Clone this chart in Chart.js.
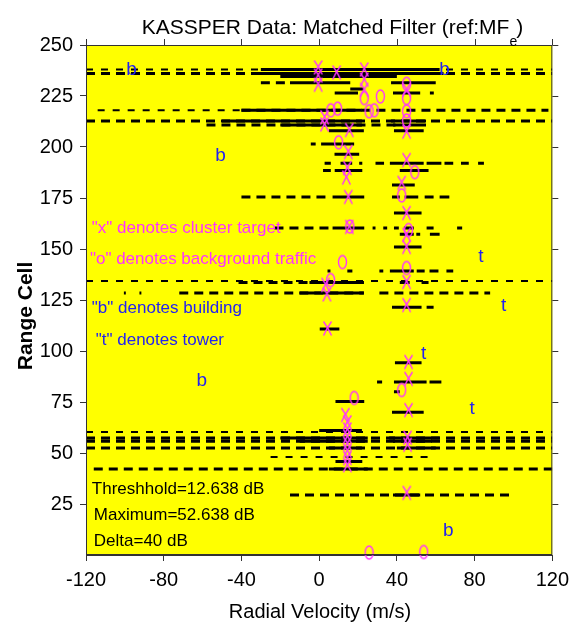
<!DOCTYPE html>
<html>
<head>
<meta charset="utf-8">
<title>KASSPER Data: Matched Filter</title>
<script src="https://cdn.jsdelivr.net/npm/chart.js@4.4.1/dist/chart.umd.min.js"></script>
<style>
  html, body { margin: 0; padding: 0; background: #ffffff; }
  #wrap { width: 576px; height: 632px; }
</style>
</head>
<body>
<div id="wrap"><canvas id="mf" width="576" height="632"></canvas></div>
<script>
// Detection runs: [range cell, velocity from, velocity to] (m/s)
const thinDashRuns = [
  [238.0, -120, 120],
  [218.0, -114, -40],
  [134.3, -120, 120],
  [60.3, -120, 120],
  [48.0, -25, 57]
];

const thickDashRuns = [
  [236.0, -120, 120],
  [231.5, -30, -15],
  [218.0, -40, 118],
  [212.7, -120, 120],
  [210.8, -58, 40],
  [175.5, -40, 5],
  [160.3, -23, 5],
  [133.6, -41.5, 23],
  [128.4, -72, 23],
  [128.4, 31, 88],
  [57.4, -120, 120],
  [55.8, -120, 120],
  [52.4, -120, 120],
  [42.2, -116, 120],
  [29.4, -15, 100]
];

const solidRuns = [
  [238.0, -30, 62], [236.0, -34, 64], [234.6, -20, 40],
  [231.5, -15, 16], [231.5, 37, 60], [228.4, 16, 23],
  [226.5, 8, 20], [226.5, 38, 52], [226.5, 57, 59],
  [218.0, -40, 22], [212.7, -50, 22], [212.7, 37, 55],
  [210.8, -20, 22], [210.8, 38, 55],
  [208.0, 5, 23], [208.0, 38.5, 53.8],
  [201.5, -4.3, -1.8], [201.5, 1, 18], [196.5, 7.9, 20.6],
  [192.0, 2.8, 6], [192.0, 11, 17], [192.0, 20.6, 22.2], [192.0, 29, 33.4],
  [192.0, 36.4, 53.8], [192.0, 55.3, 62.9], [192.0, 64.5, 69], [192.0, 73, 77],
  [192.0, 81.8, 84.8],
  [188.5, 2, 6], [188.5, 8, 22.2], [188.5, 41.5, 56.3],
  [181.4, 37.5, 49.2],
  [175.5, 6.9, 23.2], [175.5, 37.5, 41.5], [175.5, 44, 51], [175.5, 54.3, 58.9],
  [175.5, 62, 67],
  [167.6, 38.5, 52.7],
  [160.3, 6.9, 23.2], [160.3, 27.5, 29], [160.3, 33, 35], [160.3, 38.5, 41],
  [160.3, 43.6, 48.7], [160.3, 55.3, 58.9], [160.3, 71, 73.6],
  [157.2, 41.5, 48.7], [157.2, 50, 52], [157.2, 57, 62],
  [151.0, 38.5, 52.7],
  [139.2, 4.3, 5.8], [139.2, 14.5, 17.1], [139.2, 31, 33], [139.2, 36.4, 48.7],
  [139.2, 50.2, 54.3], [139.2, 56.8, 61.4], [139.2, 65.5, 69],
  [133.6, -5, 23], [133.6, 41.5, 46.6], [133.6, 52.7, 56.3],
  [128.4, -10, 23], [128.4, -100.5, -99.5], [128.4, -92.5, -91.5],
  [121.5, 37.5, 52.7], [121.5, 55.3, 58.9],
  [110.8, 0.3, 10.4],
  [94.3, 39, 52.7],
  [84.8, 29.8, 32.4], [84.8, 38.5, 55.3], [84.8, 56.8, 62.9],
  [80.0, 38.5, 41.5],
  [75.2, 8.4, 23.2],
  [70.0, 37.5, 53.8],
  [61.0, 0, 22],
  [57.4, -20, 25], [57.4, 36, 62],
  [55.8, -10, 25], [55.8, 38, 58],
  [52.4, 5, 22], [52.4, 40, 60],
  [45.8, 8.4, 22.2],
  [42.2, 5, 25],
  [29.4, 38, 52]
];

// Marked returns: [velocity, range cell]
const clusterTargets = [
  [-0.5, 239], [-0.5, 235], [-0.5, 230.5], [9, 236.5],
  [23.2, 238], [23.2, 233], [23.2, 228],
  [2.8, 214.5], [2.8, 211], [15.5, 208.3], [15, 197.5], [14.5, 189.7],
  [14, 185], [15, 175.5], [15.5, 160.8],
  [45, 228], [45, 207.5], [45, 193.6], [42.5, 182.4], [45, 167.6],
  [45, 156.9], [45, 151], [45, 133.8], [45, 122.5],
  [3.3, 132.4], [4, 127.7], [4.3, 111],
  [46, 94.6], [46, 86.3], [46, 71],
  [13.5, 68.6], [14.5, 65], [14.5, 61.5], [14.5, 58], [14.5, 54.5],
  [14.5, 51], [14.5, 47.5], [14.5, 44],
  [45.5, 57.5], [45.5, 54], [45.1, 30.4]
];

const backgroundTraffic = [
  [45, 231], [45, 224], [45, 217.5], [45, 213],
  [23.2, 224], [31.5, 224.8],
  [6, 218], [9.5, 218.8], [25.7, 217.5], [28.3, 218],
  [10, 202.3], [49.2, 187.7], [42.5, 176.3],
  [15.8, 161], [46, 159.3], [45, 140.7], [12, 143.6], [5.9, 134.8],
  [42.5, 80.9], [18, 77],
  [25.7, 1.2], [53.8, 1.5]
];

const buildings = [[-96.6, 237.7], [64.5, 237.7], [-50.7, 195.6], [-60.4, 85.3], [66.5, 11.8]];
const towers = [[83.3, 146], [95, 122], [53.8, 98.5], [78.7, 71.6]];

const xTicks = [-120, -80, -40, 0, 40, 80, 120];
const yTicks = [25, 50, 75, 100, 125, 150, 175, 200, 225, 250];

const FONT = '"Liberation Sans", Arial, sans-serif';
const MAGENTA = '#ff33ff';
const BLUE = '#2323f0';

// turn runs into one polyline broken by null points
function runsToPoints(runs) {
  const pts = [];
  runs.forEach(([cell, from, to]) => {
    pts.push({ x: from, y: cell }, { x: to, y: cell }, { x: to, y: null });
  });
  return pts;
}

function toPoints(list) {
  return list.map(([v, cell]) => ({ x: v, y: cell }));
}

// small glyph canvases for the x / o marks
function glyph(kind) {
  const c = document.createElement('canvas');
  c.width = 11;
  c.height = 17;
  const g = c.getContext('2d');
  g.strokeStyle = MAGENTA;
  g.lineWidth = 1.4;
  g.beginPath();
  if (kind === 'x') {
    g.moveTo(1.5, 1.5);
    g.quadraticCurveTo(6.5, 8.5, 9.5, 15.5);
    g.moveTo(9.5, 1.5);
    g.quadraticCurveTo(4.5, 8.5, 1.5, 15.5);
  } else {
    g.ellipse(5.5, 8.5, 4, 6.5, 0, 0, Math.PI * 2);
  }
  g.stroke();
  return c;
}

// yellow plot area
const plotBackground = {
  id: 'plotBackground',
  beforeDraw(chart) {
    const { ctx, chartArea: a } = chart;
    ctx.save();
    ctx.fillStyle = '#ffff00';
    ctx.fillRect(a.left, a.top, a.right - a.left, a.bottom - a.top);
    ctx.restore();
  }
};

// box, top/right ticks, titles and text notes
const decorations = {
  id: 'decorations',
  afterDraw(chart) {
    const { ctx, chartArea: a, scales } = chart;
    const sx = scales.x, sy = scales.y;
    ctx.save();

    ctx.strokeStyle = '#333';
    ctx.lineWidth = 1;
    ctx.strokeRect(a.left + 0.5, a.top + 0.5, a.right - a.left - 1, a.bottom - a.top - 1);
    ctx.beginPath();
    xTicks.forEach(v => {
      const px = Math.round(sx.getPixelForValue(v)) + 0.5;
      ctx.moveTo(px, a.top);
      ctx.lineTo(px, a.top - 6);
    });
    yTicks.forEach(v => {
      const py = Math.round(sy.getPixelForValue(v)) + 0.5;
      ctx.moveTo(a.right, py);
      ctx.lineTo(a.right + 6, py);
    });
    ctx.stroke();

    // building / tower letters
    ctx.fillStyle = BLUE;
    ctx.font = '19px ' + FONT;
    ctx.textAlign = 'center';
    ctx.textBaseline = 'middle';
    buildings.forEach(([v, c]) => ctx.fillText('b', sx.getPixelForValue(v), sy.getPixelForValue(c)));
    towers.forEach(([v, c]) => ctx.fillText('t', sx.getPixelForValue(v), sy.getPixelForValue(c)));

    // key notes
    ctx.textAlign = 'left';
    ctx.font = '17px ' + FONT;
    const note = (text, color, v, c) => {
      ctx.fillStyle = color;
      ctx.fillText(text, sx.getPixelForValue(v), sy.getPixelForValue(c));
    };
    note('"x" denotes cluster target', MAGENTA, -117, 160.3);
    note('"o" denotes background traffic', MAGENTA, -118, 145);
    note('"b" denotes building', BLUE, -117, 121);
    note('"t" denotes tower', BLUE, -115, 105.4);
    note('Threshhold=12.638 dB', '#000', -117, 32.4);
    note('Maximum=52.638 dB', '#000', -116, 19.6);
    note('Delta=40 dB', '#000', -116, 6.9);

    // chart title with subscript
    ctx.fillStyle = '#000';
    ctx.textBaseline = 'alphabetic';
    const main = 'KASSPER Data: Matched Filter (ref:MF';
    ctx.font = '21px ' + FONT;
    const w1 = ctx.measureText(main).width;
    const w3 = ctx.measureText(')').width;
    ctx.font = '14px ' + FONT;
    const w2 = ctx.measureText('e').width;
    let tx = 333 - (w1 + w2 + w3) / 2;
    ctx.font = '21px ' + FONT;
    ctx.fillText(main, tx, 34);
    tx += w1;
    ctx.font = '14px ' + FONT;
    ctx.fillText('e', tx, 46);
    tx += w2 - 1;
    ctx.font = '21px ' + FONT;
    ctx.fillText(')', tx, 34);

    // axis titles
    ctx.textAlign = 'center';
    ctx.textBaseline = 'middle';
    ctx.font = '20px ' + FONT;
    ctx.fillText('Radial Velocity (m/s)', 320, 612);
    ctx.translate(26, 316);
    ctx.rotate(-Math.PI / 2);
    ctx.font = 'bold 21px ' + FONT;
    ctx.fillText('Range Cell', 0, 0);

    ctx.restore();
  }
};

const axisLook = {
  grid: { drawOnChartArea: false, drawTicks: true, tickLength: 6, color: '#333' },
  border: { display: true, color: '#333', width: 1 }
};

new Chart(document.getElementById('mf'), {
  type: 'scatter',
  data: {
    datasets: [
      {
        label: 'cluster target',
        data: toPoints(clusterTargets),
        pointStyle: glyph('x'),
        pointRadius: 6,
        clip: false
      },
      {
        label: 'background traffic',
        data: toPoints(backgroundTraffic),
        pointStyle: glyph('o'),
        pointRadius: 6,
        clip: false
      },
      {
        label: 'solid runs',
        data: runsToPoints(solidRuns),
        showLine: true,
        borderColor: '#000',
        borderWidth: 3,
        pointRadius: 0,
        spanGaps: false
      },
      {
        label: 'dashed runs',
        data: runsToPoints(thickDashRuns),
        showLine: true,
        borderColor: '#000',
        borderWidth: 3,
        borderDash: [9, 6],
        pointRadius: 0,
        spanGaps: false
      },
      {
        label: 'thin runs',
        data: runsToPoints(thinDashRuns),
        showLine: true,
        borderColor: '#000',
        borderWidth: 2,
        borderDash: [7, 8],
        pointRadius: 0,
        spanGaps: false
      }
    ]
  },
  options: {
    responsive: false,
    animation: false,
    devicePixelRatio: 1,
    layout: { padding: { top: 45, right: 19, left: 0, bottom: 0 } },
    plugins: {
      legend: { display: false },
      tooltip: { enabled: false }
    },
    scales: {
      x: {
        type: 'linear',
        min: -120,
        max: 120,
        afterBuildTicks: s => { s.ticks = xTicks.map(v => ({ value: v })); },
        ticks: { color: '#000', font: { family: FONT, size: 20 }, padding: 7, maxRotation: 0 },
        afterFit: s => { s.height = 77; },
        ...axisLook
      },
      y: {
        type: 'linear',
        min: 0,
        max: 250,
        afterBuildTicks: s => { s.ticks = yTicks.map(v => ({ value: v })); },
        ticks: { color: '#000', font: { family: FONT, size: 20 }, padding: 7 },
        afterFit: s => { s.width = 86; },
        ...axisLook
      }
    }
  },
  plugins: [plotBackground, decorations]
});
</script>
</body>
</html>
